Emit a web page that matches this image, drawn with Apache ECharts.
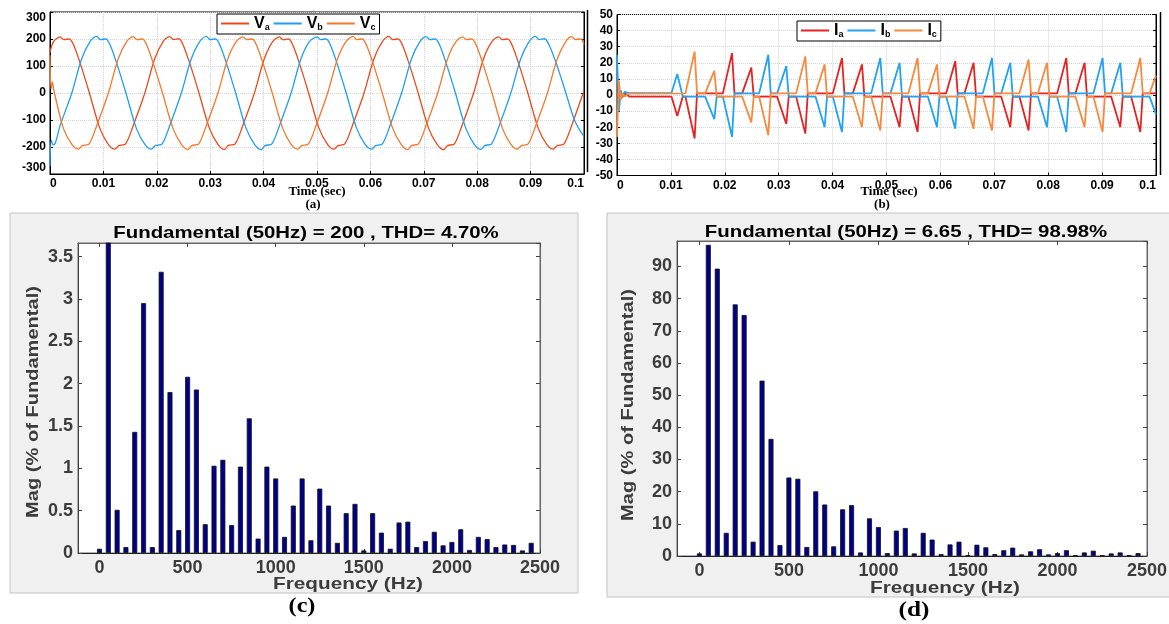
<!DOCTYPE html>
<html>
<head>
<meta charset="utf-8">
<script src="https://cdn.jsdelivr.net/npm/echarts@6.0.0/dist/echarts.min.js"></script>
<style>
  html, body { margin: 0; padding: 0; background: #fff; }
  #chart { width: 1169px; height: 624px; }
</style>
</head>
<body>
<div id="chart"></div>
<script>
// ---- time axis (values in ms, labelled in seconds) ----
const timeTickLabels = ['0', '0.01', '0.02', '0.03', '0.04', '0.05', '0.06', '0.07', '0.08', '0.09', '0.1'];

// ---- (a) phase voltages [t (ms), V] ----
const vaData = [
  [0,150],[0.66,190],[1.91,208],[2.59,198],[3.62,200],[4.48,175],[5.90,95],[7.38,0],[9.32,-130],[10.92,-190],[12.17,-208],[12.86,-195],[14.17,-188],[15.59,-120],[17.76,0],[19.58,125],[21.18,190],
  [22.43,209],[23.11,198],[24.14,201],[24.99,175],[26.42,95],[27.90,0],[29.84,-130],[31.44,-190],[32.69,-209],[33.38,-194],[34.69,-188],[36.11,-120],[38.28,0],[40.10,125],[41.70,190],
  [42.96,208],[43.64,197],[44.67,200],[45.53,175],[46.95,95],[48.43,0],[50.37,-130],[51.97,-190],[53.22,-208],[53.91,-195],[55.22,-188],[56.64,-120],[58.81,0],[60.63,125],[62.23,190],
  [63.48,210],[64.16,198],[65.19,200],[66.05,175],[67.47,95],[68.95,0],[70.89,-130],[72.49,-190],[73.74,-210],[74.43,-195],[75.74,-188],[77.16,-120],[79.33,0],[81.15,125],[82.75,190],
  [84.01,208],[84.69,198],[85.72,200],[86.58,175],[88.00,95],[89.48,0],[91.42,-130],[93.02,-190],[94.27,-208],[94.96,-195],[96.27,-188],[97.69,-120],[99.86,0],[100,4]
];
const vbData = [
  [0,-270],[0.25,-175],[0.6,-192],[1.0,-185],[1.91,-120],[4.08,0],[5.90,125],[7.49,190],
  [8.75,210],[9.43,198],[10.46,200],[11.32,175],[12.74,95],[14.22,0],[16.16,-130],[17.76,-190],[19.01,-208],[19.70,-195],[21.01,-188],[22.43,-120],[24.60,0],[26.42,125],[28.02,190],
  [29.30,210],[29.98,198],[31.01,200],[31.87,175],[33.29,95],[34.77,0],[36.71,-130],[38.31,-190],[39.56,-210],[40.25,-195],[41.56,-188],[42.98,-120],[45.15,0],[46.97,125],[48.57,190],
  [50.00,208],[50.68,198],[51.71,200],[52.57,175],[53.99,95],[55.47,0],[57.41,-130],[59.01,-190],[60.26,-208],[60.95,-195],[62.26,-188],[63.68,-120],[65.85,0],[67.67,125],[69.27,190],
  [70.45,209],[71.13,198],[72.16,200],[73.02,175],[74.44,95],[75.92,0],[77.86,-130],[79.46,-190],[80.71,-209],[81.40,-195],[82.71,-188],[84.13,-120],[86.30,0],[88.12,125],[89.72,190],
  [90.90,210],[91.58,198],[92.61,201],[93.47,178],[94.89,105],[96.37,15],[98.31,-105],[100,-162]
];
const vcData = [
  [0,140],[0.2,15],[0.45,40],[0.7,12],[2.49,-130],[4.09,-190],[5.34,-208],[6.03,-195],[7.34,-188],[8.76,-120],[10.93,0],[12.75,125],[14.35,190],
  [15.60,209],[16.28,198],[17.31,200],[18.17,175],[19.59,95],[21.07,0],[23.01,-130],[24.61,-190],[25.86,-209],[26.55,-195],[27.86,-188],[29.28,-120],[31.45,0],[33.27,125],[34.87,190],
  [36.15,208],[36.83,198],[37.86,200],[38.72,175],[40.14,95],[41.62,0],[43.56,-130],[45.16,-190],[46.41,-208],[47.10,-195],[48.41,-188],[49.83,-120],[52.00,0],[53.82,125],[55.42,190],
  [56.75,210],[57.43,198],[58.46,200],[59.32,175],[60.74,95],[62.22,0],[64.16,-130],[65.76,-190],[67.01,-210],[67.70,-195],[69.01,-188],[70.43,-120],[72.60,0],[74.42,125],[76.02,190],
  [77.30,208],[77.98,198],[79.01,200],[79.87,175],[81.29,95],[82.77,0],[84.71,-130],[86.31,-190],[87.56,-208],[88.25,-195],[89.56,-188],[90.98,-120],[93.15,0],[94.97,125],[96.57,190],
  [97.70,209],[98.38,198],[99.41,200],[100,180]
];

// ---- (b) phase currents [t (ms), A] ----
const iaData = [
  [0,0],[0.4,1.5],[0.9,-1.5],[1.5,0.8],[2.3,-1],
  [10.1,-1],[11.19,-13],[12.2,-1],
  [12.7,-1],[14.40,-27],[14.85,1],
  [19.64,1],[21.34,26],[21.79,1],
  [23.22,1],[24.92,17],[25.37,-1],
  [29.71,-1],[31.41,-18],[31.86,-1],
  [33.24,-1],[34.94,-24],[35.39,1],
  [40.04,1],[41.74,23],[42.19,1],
  [43.75,1],[45.45,19],[45.90,-1],
  [50.73,-1],[52.43,-20],[52.88,-1],
  [54.07,-1],[55.77,-23],[56.22,1],
  [61.06,1],[62.76,21],[63.21,1],
  [64.46,1],[66.16,20],[66.61,-1],
  [71.27,-1],[72.97,-20],[73.42,-1],
  [74.66,-1],[76.36,-22],[76.81,1],
  [81.66,1],[83.36,23],[83.81,1],
  [85.05,1],[86.75,20],[87.20,-1],
  [91.68,-1],[93.38,-20],[93.83,-1],
  [95.39,-1],[97.09,-23],[97.54,1],
  [100,1]
];
const ibData = [
  [0,25],[0.35,-10],[0.7,3],[1.0,-1],[1.4,2],[2.2,1.2],
  [10.1,1.2],[11.19,13],[12.2,-1],
  [16.35,-1],[18.05,-15],[18.50,-1],
  [19.64,-1],[21.34,-26],[21.79,1],
  [26.37,1],[28.07,25],[28.52,1],
  [29.71,1],[31.41,18],[31.86,-1],
  [36.82,-1],[38.52,-20],[38.97,-1],
  [40.04,-1],[41.74,-23],[42.19,1],
  [47.15,1],[48.85,23],[49.30,1],
  [50.73,1],[52.43,20],[52.88,-1],
  [57.67,-1],[59.37,-20],[59.82,-1],
  [61.06,-1],[62.76,-21],[63.21,1],
  [67.87,1],[69.57,23],[70.02,1],
  [71.27,1],[72.97,20],[73.42,-1],
  [78.08,-1],[79.78,-20],[80.23,-1],
  [81.66,-1],[83.36,-23],[83.81,1],
  [88.39,1],[90.09,23],[90.54,1],
  [91.68,1],[93.38,20],[93.83,-1],
  [98.8,-1],[100,-12]
];
const icData = [
  [0,-26],[0.35,9],[0.7,-3],[1.0,1],[1.4,-1],[2.2,0.8],
  [12.7,1],[14.40,27],[14.85,1],
  [16.35,1],[18.05,15],[18.50,-1],
  [23.22,-1],[24.92,-17],[25.37,-1],
  [26.37,-1],[28.07,-25],[28.52,1],
  [33.24,1],[34.94,24],[35.39,1],
  [36.82,1],[38.52,19],[38.97,-1],
  [43.75,-1],[45.45,-20],[45.90,-1],
  [47.15,-1],[48.85,-22],[49.30,1],
  [54.07,1],[55.77,23],[56.22,1],
  [57.67,1],[59.37,19],[59.82,-1],
  [64.46,-1],[66.16,-21],[66.61,-1],
  [67.87,-1],[69.57,-22],[70.02,1],
  [74.66,1],[76.36,22],[76.81,1],
  [78.08,1],[79.78,20],[80.23,-1],
  [85.05,-1],[86.75,-20],[87.20,-1],
  [88.39,-1],[90.09,-23],[90.54,1],
  [95.39,1],[97.09,23],[97.54,1],
  [98.8,1],[100,12]
];

// ---- (c)/(d) harmonic spectra ----
const harmonicHz = [0,50,100,150,200,250,300,350,400,450,500,550,600,650,700,750,800,850,900,950,
  1000,1050,1100,1150,1200,1250,1300,1350,1400,1450,1500,1550,1600,1650,1700,1750,1800,1850,1900,1950,
  2000,2050,2100,2150,2200,2250,2300,2350,2400,2450];
const voltageHarmonics = [0.05,100,0.51,0.07,1.43,2.95,0.07,3.32,1.90,0.27,2.08,1.93,0.34,1.03,1.10,0.33,1.02,1.59,0.17,1.02,
  0.88,0.19,0.56,0.88,0.15,0.76,0.56,0.12,0.47,0.58,0.03,0.47,0.24,0.05,0.36,0.37,0.07,0.14,0.25,0.09,
  0.13,0.28,0.035,0.19,0.165,0.07,0.10,0.095,0.03,0.12];
const currentHarmonics = [0.8,96.7,89.3,7.2,78.2,74.9,4.45,54.5,36.4,3.4,24.4,24.0,2.8,20.1,16.0,3.0,14.5,15.8,1.1,11.7,
  9.0,0.9,7.9,8.7,0.8,7.2,5.1,0.6,3.6,4.45,0.2,3.5,2.7,0.6,1.8,2.6,0.5,1.45,2.1,0.5,
  0.9,1.8,0.2,1.1,1.65,0.2,0.8,1.1,0.2,0.9];
const freqTicks = [0, 500, 1000, 1500, 2000, 2500];

const titleC = 'Fundamental (50Hz) = 200 , THD= 4.70%';
const titleD = 'Fundamental (50Hz) = 6.65 , THD= 98.98%';

// ---- styling helpers ----
const SANS = '"Liberation Sans", Arial, sans-serif';
const SERIF = '"Liberation Serif", "Times New Roman", serif';
const COL = { va: '#ec4a1c', vb: '#1e9ff2', vc: '#f5782c', ia: '#e62222', ib: '#22a2f2', ic: '#f78a3c' };

function timeXAxis(gridIndex) {
  return {
    gridIndex, type: 'value', min: 0, max: 100, interval: 10,
    axisLine: { onZero: false, lineStyle: { color: '#000', width: 1 } },
    axisTick: { inside: true, length: 3, lineStyle: { color: '#000' } },
    axisLabel: {
      formatter: v => timeTickLabels[Math.round(v / 10)], interval: 0,
      fontFamily: SANS, fontWeight: 'bold', fontSize: 12, color: '#000', margin: 4,
      alignMinLabel: 'left', alignMaxLabel: 'right', showMinLabel: true, showMaxLabel: true
    },
    splitLine: { show: true, lineStyle: { color: '#d6d6d6', type: 'dotted' } }
  };
}
function waveYAxis(gridIndex, lim, step, right, tuckEnds) {
  const lab = {
    formatter: v => String(v), interval: 0, hideOverlap: false,
    fontFamily: SANS, fontWeight: 'bold', fontSize: 12, color: '#000', margin: 4,
    showMinLabel: true, showMaxLabel: true
  };
  if (tuckEnds) {
    lab.verticalAlignMinLabel = 'bottom';
    lab.verticalAlignMaxLabel = 'top';
  }
  return {
    gridIndex, type: 'value', min: -lim, max: lim, interval: step,
    position: right ? 'right' : 'left',
    axisLine: { onZero: false, lineStyle: { color: '#000', width: 1 } },
    axisTick: { inside: true, length: 3, lineStyle: { color: '#000' } },
    axisLabel: right ? { show: false } : lab,
    splitLine: { show: !right, lineStyle: { color: '#d6d6d6', type: 'dotted' } }
  };
}
function freqXAxis(gridIndex, min, top) {
  return {
    gridIndex, type: 'value', min, max: 2500, position: top ? 'top' : 'bottom',
    axisLine: { onZero: false, lineStyle: { color: top ? '#666' : '#222', width: 1 } },
    axisTick: { inside: true, length: 4, customValues: freqTicks, lineStyle: { color: '#444' } },
    axisLabel: top ? { show: false } : {
      customValues: freqTicks, formatter: v => String(v),
      fontFamily: SANS, fontWeight: 'bold', fontSize: 18, color: '#3c3c3c', margin: 6
    },
    splitLine: { show: false }
  };
}
function magYAxis(gridIndex, max, step, right) {
  return {
    gridIndex, type: 'value', min: 0, max, interval: step, position: right ? 'right' : 'left',
    axisLine: { onZero: false, lineStyle: { color: right ? '#666' : '#444', width: 1 } },
    axisTick: { inside: true, length: 4, lineStyle: { color: '#444' } },
    axisLabel: right ? { show: false } : {
      formatter: v => String(v),
      fontFamily: SANS, fontWeight: 'bold', fontSize: 18, color: '#3c3c3c', margin: 5, showMaxLabel: false
    },
    splitLine: { show: false }
  };
}
function waveSeries(name, data, color, xi, yi, smooth, width) {
  return {
    name, type: 'line', data, xAxisIndex: xi, yAxisIndex: yi,
    symbol: 'none', showSymbol: false, smooth, animation: false,
    lineStyle: { color, width }, itemStyle: { color }
  };
}
function barSeries(freqs, mags, xi, yi) {
  return {
    type: 'bar', xAxisIndex: xi, yAxisIndex: yi, barWidth: 5, clip: true, animation: false,
    data: freqs.map((f, i) => [f, mags[i]]),
    itemStyle: { color: '#00008b', borderColor: '#111', borderWidth: 0.8 }
  };
}
function legendBox(names, left, top) {
  return {
    data: names, left, top, orient: 'horizontal', selectedMode: false,
    icon: 'rect', itemWidth: 28, itemHeight: 2, itemGap: 4,
    padding: [2, 4, 2, 4],
    backgroundColor: '#fff', borderColor: '#000', borderWidth: 1, borderRadius: 0,
    formatter: n => '{v|' + n.charAt(0) + '}{s|' + n.slice(1) + '}',
    textStyle: {
      rich: {
        v: { fontFamily: SANS, fontWeight: 'bold', fontSize: 16, color: '#000', lineHeight: 17, verticalAlign: 'bottom' },
        s: { fontFamily: SANS, fontWeight: 'bold', fontSize: 9, color: '#000', lineHeight: 10, verticalAlign: 'bottom' }
      }
    }
  };
}
function label(text, x, y, font, opts, fill) {
  return Object.assign({
    type: 'text', x, y, z: 100,
    style: { text, font, fill: fill || '#000', align: 'center', verticalAlign: 'middle' }
  }, opts || {});
}

const chart = echarts.init(document.getElementById('chart'), null, { renderer: 'canvas' });

chart.setOption({
  animation: false,
  backgroundColor: '#fff',
  grid: [
    { left: 50, top: 12, width: 534, height: 162, show: true, backgroundColor: '#fff', borderColor: '#000', borderWidth: 1, outerBoundsMode: 'none' },
    { left: 617, top: 14.5, width: 539, height: 161, show: true, backgroundColor: '#fff', borderColor: '#000', borderWidth: 1, outerBoundsMode: 'none' },
    { left: 78, top: 243, width: 462, height: 310, show: true, backgroundColor: '#fff', borderColor: '#666', borderWidth: 1, outerBoundsMode: 'none' },
    { left: 677, top: 241, width: 470, height: 315, show: true, backgroundColor: '#fff', borderColor: '#666', borderWidth: 1, outerBoundsMode: 'none' }
  ],
  xAxis: [
    timeXAxis(0),
    timeXAxis(1),
    freqXAxis(2, -122, false),
    freqXAxis(2, -122, true),
    freqXAxis(3, -125, false),
    freqXAxis(3, -125, true)
  ],
  yAxis: [
    waveYAxis(0, 300, 100, false, true),
    waveYAxis(0, 300, 100, true, false),
    waveYAxis(1, 50, 10, false, false),
    waveYAxis(1, 50, 10, true, false),
    magYAxis(2, 3.66, 0.5, false),
    magYAxis(2, 3.66, 0.5, true),
    magYAxis(3, 97.9, 10, false),
    magYAxis(3, 97.9, 10, true)
  ],
  legend: [
    legendBox(['Va', 'Vb', 'Vc'], 217, 14),
    legendBox(['Ia', 'Ib', 'Ic'], 797, 21)
  ],
  series: [
    waveSeries('Va', vaData, COL.va, 0, 0, 0.3, 1.3),
    waveSeries('Vb', vbData, COL.vb, 0, 0, 0.3, 1.3),
    waveSeries('Vc', vcData, COL.vc, 0, 0, 0.3, 1.3),
    waveSeries('Ia', iaData, COL.ia, 1, 2, false, 1.8),
    waveSeries('Ib', ibData, COL.ib, 1, 2, false, 1.8),
    waveSeries('Ic', icData, COL.ic, 1, 2, false, 1.8),
    barSeries(harmonicHz, voltageHarmonics, 2, 4),
    barSeries(harmonicHz, currentHarmonics, 4, 6)
  ],
  graphic: { elements: [
    // grey panels behind the spectra
    { type: 'rect', z: -100, shape: { x: 10, y: 213, width: 568, height: 380 }, style: { fill: '#f0f0f0', stroke: '#c4c4c4', lineWidth: 1 } },
    { type: 'rect', z: -100, shape: { x: 607, y: 213, width: 575, height: 384 }, style: { fill: '#f0f0f0', stroke: '#c4c4c4', lineWidth: 1 } },
    // frame edges beside the waveform plots
    { type: 'line', z: 100, shape: { x1: 587.5, y1: 10, x2: 587.5, y2: 172 }, style: { stroke: '#000', lineWidth: 1.5 } },
    { type: 'line', z: 100, shape: { x1: 1160.5, y1: 12, x2: 1160.5, y2: 175 }, style: { stroke: '#000', lineWidth: 1.5 } },
    // waveform captions
    label('Time (sec)', 317, 192, 'bold 13px ' + SERIF),
    label('(a)', 313, 205, 'bold 13px ' + SERIF),
    label('Time (sec)', 889, 192, 'bold 13px ' + SERIF),
    label('(b)', 882, 205, 'bold 13px ' + SERIF),
    // spectrum titles and axis names
    label(titleC, 306, 233, 'bold 17px ' + SANS, { scaleX: 1.2 }),
    label(titleD, 906, 232, 'bold 17px ' + SANS, { scaleX: 1.2 }),
    label('Mag (% of Fundamental)', 33, 402, 'bold 17px ' + SANS, { rotation: Math.PI / 2, scaleX: 1.18 }, '#3c3c3c'),
    label('Mag (% of Fundamental)', 628, 405, 'bold 17px ' + SANS, { rotation: Math.PI / 2, scaleX: 1.18 }, '#3c3c3c'),
    label('Frequency (Hz)', 348, 584, 'bold 17px ' + SANS, { scaleX: 1.22 }, '#3c3c3c'),
    label('Frequency (Hz)', 945, 588, 'bold 17px ' + SANS, { scaleX: 1.22 }, '#3c3c3c'),
    label('(c)', 302, 607, 'bold 21px ' + SERIF, { scaleX: 1.15 }),
    label('(d)', 914, 610, 'bold 22px ' + SERIF, { scaleX: 1.15 })
  ] }
});
</script>
</body>
</html>
